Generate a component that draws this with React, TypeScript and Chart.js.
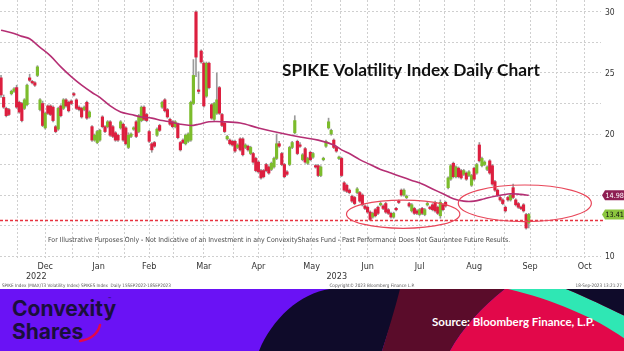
import React, { useEffect, useRef } from 'react';
import { Chart, registerables } from 'chart.js';

Chart.register(...registerables);

// ---------- DATA ----------
// Daily candles [open, high, low, close], one entry per trading day
const nov2022 = [
  [24.6, 24.8, 23.0, 23.2], [23.0, 23.2, 22.1, 22.2], [22.1, 22.2, 21.4, 21.5], [22.0, 22.1, 21.5, 21.6],
  [23.3, 23.6, 23.2, 23.5], [23.5, 23.8, 23.4, 23.7], [23.8, 24.0, 22.1, 22.2],
];
const dec2022 = [
  [22.6, 22.7, 21.7, 21.8], [22.5, 22.6, 21.0, 21.1], [22.1, 22.9, 22.0, 22.8], [22.4, 24.1, 22.3, 24.0],
  [24.6, 24.9, 24.3, 24.4], [24.3, 24.4, 24.1, 24.2], [24.2, 24.3, 23.9, 24.0], [24.8, 25.6, 24.7, 25.5],
  [22.0, 22.9, 21.9, 22.8], [22.5, 22.7, 20.6, 20.7], [20.5, 21.8, 20.4, 21.7], [22.3, 22.4, 21.6, 21.7],
  [22.3, 22.4, 21.5, 21.6], [22.2, 22.3, 21.0, 21.1], [20.6, 20.7, 20.1, 20.2], [20.4, 22.2, 20.3, 22.1],
  [22.3, 22.4, 21.4, 21.5], [22.1, 22.9, 22.0, 22.8], [22.8, 22.9, 22.2, 22.3], [22.6, 22.7, 21.8, 21.9],
  [22.7, 22.8, 22.4, 22.5],
];
const jan2023 = [
  [23.3, 23.4, 23.1, 23.2], [22.8, 22.9, 22.0, 22.1], [22.2, 22.3, 21.9, 22.0], [22.1, 22.2, 21.3, 21.4],
  [22.0, 22.3, 21.9, 22.2], [22.6, 22.7, 21.2, 21.3], [21.4, 21.9, 21.3, 21.8], [20.6, 20.7, 19.4, 19.5],
  [19.5, 20.0, 19.4, 19.9], [19.3, 20.3, 19.2, 20.2], [19.5, 20.4, 19.4, 20.3], [21.4, 21.5, 20.5, 20.6],
  [20.6, 20.7, 20.1, 20.2], [20.6, 21.1, 20.5, 21.0], [21.0, 21.1, 19.8, 19.9], [20.6, 20.7, 19.7, 19.8],
  [20.1, 20.2, 19.4, 19.5], [19.9, 20.0, 19.4, 19.5], [20.5, 21.1, 20.4, 21.0], [20.8, 20.9, 19.4, 19.5],
];
const feb2023 = [
  [20.5, 20.6, 19.1, 19.2], [18.9, 20.1, 18.8, 19.9], [19.8, 20.1, 19.7, 20.0], [20.4, 20.6, 20.3, 20.5],
  [21.0, 21.1, 19.7, 19.8], [20.2, 21.6, 20.1, 21.5], [21.1, 22.3, 21.0, 22.2], [22.2, 22.3, 21.1, 21.2],
  [21.6, 21.7, 21.0, 21.1], [20.2, 20.3, 19.3, 19.4], [19.2, 19.3, 18.5, 18.7], [19.3, 19.4, 18.9, 19.0],
  [19.9, 20.5, 19.8, 20.4], [20.7, 20.8, 20.2, 20.3], [22.2, 22.7, 22.1, 22.6], [22.8, 22.9, 21.8, 21.9],
  [22.0, 22.1, 21.3, 21.4], [21.2, 21.3, 20.7, 20.8], [21.0, 21.1, 20.5, 20.6],
];
const mar2023 = [
  [20.6, 21.1, 20.5, 21.0], [20.8, 20.9, 19.6, 19.7], [19.3, 19.4, 18.6, 18.7], [19.5, 19.6, 19.2, 19.3],
  [19.2, 20.0, 19.1, 19.9], [19.4, 20.1, 19.3, 20.0], [19.5, 22.7, 19.4, 22.6], [22.5, 26.1, 22.4, 24.8],
  [30.0, 30.1, 24.7, 26.3], [23.6, 25.1, 23.3, 23.5], [26.8, 26.9, 25.8, 25.9], [25.8, 25.9, 22.2, 22.3],
  [23.1, 25.9, 23.0, 25.8], [25.8, 25.9, 23.7, 23.8], [22.4, 22.5, 21.2, 21.3], [21.2, 22.6, 21.1, 22.5],
  [21.7, 25.0, 21.6, 22.8], [23.8, 23.9, 21.6, 21.7], [21.6, 21.7, 20.6, 20.7], [20.9, 21.0, 20.1, 20.2],
  [19.6, 19.9, 19.5, 19.8], [19.5, 19.6, 19.1, 19.2], [19.4, 19.5, 19.0, 19.1],
];
const apr2023 = [
  [19.4, 19.5, 18.5, 18.6], [18.9, 19.2, 18.8, 19.1], [19.6, 19.7, 18.6, 18.7], [19.6, 19.7, 18.2, 18.3],
  [18.9, 19.2, 18.8, 19.1], [19.0, 19.1, 18.6, 18.7], [18.4, 19.0, 18.3, 18.9], [18.4, 18.5, 17.6, 17.7],
  [18.0, 18.1, 16.9, 17.0], [17.7, 17.8, 16.8, 16.9], [17.0, 17.1, 16.3, 16.4], [17.0, 17.1, 16.4, 16.5],
  [17.5, 17.6, 16.9, 17.0], [17.3, 17.4, 16.7, 16.8], [17.1, 17.7, 17.0, 17.6], [17.3, 18.1, 17.2, 18.0],
  [18.0, 20.0, 17.9, 19.2], [19.2, 19.4, 18.9, 19.0], [18.4, 18.5, 17.4, 17.5],
];
const may2023 = [
  [17.5, 17.6, 16.4, 16.5], [16.9, 17.0, 16.6, 16.7], [17.5, 19.0, 17.4, 18.9], [18.9, 19.4, 18.8, 19.3],
  [20.1, 21.5, 20.0, 21.1], [19.4, 19.5, 18.3, 18.4], [19.1, 19.3, 18.9, 19.0], [17.9, 18.4, 17.8, 18.3],
  [18.8, 18.9, 17.6, 17.7], [17.6, 18.1, 17.5, 18.0], [18.5, 18.6, 17.8, 17.9], [18.1, 18.5, 18.0, 18.4],
  [17.4, 17.5, 17.2, 17.3], [17.4, 17.5, 16.5, 16.6], [16.6, 17.4, 16.5, 17.3], [17.9, 18.1, 17.8, 18.0],
  [19.0, 19.5, 18.9, 19.4], [20.5, 21.3, 20.4, 21.0], [20.0, 20.4, 19.9, 20.3], [19.5, 19.6, 18.8, 18.9],
  [18.9, 19.0, 18.5, 18.6], [18.0, 18.2, 17.9, 18.1],
];
const jun2023 = [
  [18.0, 18.1, 16.5, 16.6], [16.0, 16.1, 15.3, 15.4], [15.8, 15.9, 15.2, 15.3], [15.4, 15.5, 15.1, 15.2],
  [14.9, 15.0, 14.4, 14.5], [14.8, 14.9, 14.2, 14.3], [15.2, 15.6, 15.1, 15.5], [15.2, 15.3, 14.4, 14.5],
  [15.0, 15.1, 14.1, 14.2], [14.1, 14.2, 13.8, 13.9], [14.0, 14.1, 13.5, 13.6], [13.6, 13.7, 12.9, 13.0],
  [13.2, 13.6, 13.1, 13.5], [13.8, 13.9, 13.2, 13.3], [14.0, 14.1, 13.4, 13.5], [14.2, 14.4, 14.1, 14.3],
  [14.1, 14.2, 13.8, 13.9], [14.3, 14.4, 13.5, 13.6], [13.8, 13.9, 13.4, 13.5], [13.5, 13.6, 13.1, 13.2],
  [13.2, 13.6, 13.1, 13.5],
];
const jul2023 = [
  [13.9, 14.0, 13.7, 13.8], [14.5, 14.6, 14.3, 14.4], [15.4, 15.5, 14.9, 15.0], [15.0, 15.5, 14.9, 15.4],
  [14.8, 15.0, 14.7, 14.9], [14.3, 14.4, 14.0, 14.1], [13.7, 14.3, 13.6, 14.2], [13.9, 14.0, 13.4, 13.5],
  [13.7, 13.8, 13.4, 13.5], [13.4, 13.9, 13.3, 13.8], [13.9, 14.0, 13.4, 13.5], [13.4, 13.9, 13.3, 13.8],
  [14.2, 14.4, 14.1, 14.3], [14.0, 14.1, 13.8, 13.9], [14.2, 14.3, 13.7, 13.8], [14.4, 14.5, 13.6, 13.7],
  [14.0, 14.1, 13.4, 13.5], [13.3, 14.6, 13.1, 14.4], [14.2, 14.3, 13.7, 13.8],
];
const aug2023 = [
  [14.4, 14.5, 14.0, 14.1], [15.6, 16.5, 15.5, 16.4], [16.3, 17.5, 16.2, 17.4], [17.6, 17.7, 16.4, 16.5],
  [16.5, 17.4, 16.4, 17.3], [17.2, 17.3, 16.4, 16.5], [17.0, 17.1, 16.3, 16.4], [16.7, 17.1, 16.6, 17.0],
  [16.8, 16.9, 16.2, 16.3], [16.6, 17.0, 16.5, 16.9], [15.8, 16.7, 15.7, 16.6], [17.2, 17.3, 16.2, 16.3],
  [16.8, 17.6, 16.7, 17.5], [19.1, 19.3, 17.7, 17.8], [17.4, 18.1, 17.3, 18.0], [17.5, 17.8, 17.4, 17.7],
  [17.1, 17.4, 17.0, 17.3], [17.8, 17.9, 16.7, 16.8], [17.4, 17.5, 15.8, 15.9], [16.1, 16.2, 15.3, 15.4],
  [15.4, 15.5, 14.9, 15.0], [14.8, 14.9, 14.5, 14.6], [14.6, 14.7, 14.2, 14.3],
];
const sep2023 = [
  [14.0, 14.1, 13.6, 13.7], [14.8, 14.9, 14.5, 14.6], [14.6, 15.1, 14.5, 15.0], [15.6, 15.9, 14.7, 14.8],
  [14.6, 14.7, 14.1, 14.2], [14.3, 14.4, 13.9, 14.0], [14.0, 14.1, 13.8, 13.9], [14.2, 14.3, 13.6, 13.7],
  [13.4, 13.5, 12.2, 12.3], [12.7, 13.5, 12.3, 13.41],
];

// Moving average [trading-day index, value]
const movingAvg = [
  [0, 28.5], [4, 28.3], [8, 28.0], [11, 27.8], [15, 27.1], [19, 26.4], [23, 25.5], [27, 24.7],
  [31, 24.0], [35, 23.4], [38, 23.0], [42, 22.3], [46, 21.8], [50, 21.6], [54, 21.4], [58, 21.3],
  [62, 21.1], [65, 21.0], [69, 20.8], [73, 20.7], [76, 20.8], [80, 21.0], [86, 21.0], [92, 20.9],
  [99, 20.5], [107, 20.1], [115, 19.75], [122, 19.5], [128, 19.1], [131, 18.7], [134, 18.4], [138, 17.9],
  [142, 17.5], [146, 17.1], [150, 16.8], [154, 16.5], [158, 16.2], [162, 15.9], [166, 15.5], [170, 15.1],
  [174, 14.7], [178, 14.5], [182, 14.5], [186, 14.7], [190, 14.9], [196, 15.1], [200, 15.05], [203, 14.98],
];

const lastMA = 14.98;
const lastClose = 13.41;
const refLevel = 12.95;

const yGridValues = [10, 12.5, 15, 17.5, 20, 22.5, 25, 27.5, 30];
const yLabelValues = [10, 20, 25, 30];
const monthNames = ['Dec', 'Jan', 'Feb', 'Mar', 'Apr', 'May', 'Jun', 'Jul', 'Aug', 'Sep', 'Oct'];
// first trading-day index of Dec 2022 ... Nov 2023
const monthFirstIndex = [7, 28, 48, 67, 90, 109, 131, 152, 171, 194, 214, 236];
const yearLabels = ['2022', '2023'];
const yearStartIndex = [-0.4, 27.5];
const X_MIN = -0.4;
const X_MAX = 230.8;

// annotations [center index, center value, x-radius (days), y-radius (value)]
const ellipses = [
  [154.7, 13.43, 21.8, 1.16],
  [201.5, 14.32, 25.6, 1.5],
];

const TITLE = 'SPIKE Volatility Index Daily Chart';
const DISCLAIMER =
  'For Illustrative Purposes Only - Not Indicative of an Investment in any ConvexityShares Fund - Past Performance Does Not Gaurantee Future Results.';
const FOOT_LEFT = 'SPIKE Index (MIAX/T3 Volatility Index) SPIKES Index  Daily 15SEP2022-18SEP2023';
const FOOT_MID = 'Copyright© 2023 Bloomberg Finance L.P.';
const FOOT_RIGHT = '18-Sep-2023 13:21:27';

// ---------- STYLE ----------
const RED = '#dc1f3f';
const GREEN = '#7cbc2c';
const WICK = '#9a9a9a';
const MA_COLOR = '#b52f74';
const GRID = '#cfcfcf';
const NARROW = "'Liberation Sans Narrow', 'DejaVu Sans Condensed', 'Roboto Condensed', Arial, sans-serif";

function fitFont(ctx: CanvasRenderingContext2D, text: string, width: number, weight: string, family: string) {
  ctx.font = `${weight} 100px ${family}`;
  const w = ctx.measureText(text).width;
  const size = (100 * width) / w;
  ctx.font = `${weight} ${size}px ${family}`;
  return size;
}

export default function App() {
  const ref = useRef<HTMLCanvasElement>(null);

  useEffect(() => {
    const canvas = ref.current;
    if (!canvas) return;
    const candles = [...nov2022, ...dec2022, ...jan2023, ...feb2023, ...mar2023, ...apr2023, ...may2023, ...jun2023, ...jul2023, ...aug2023, ...sep2023];

    const bodies = candles.map(([o, , , c], i) => {
      let lo = Math.min(o, c);
      let hi = Math.max(o, c);
      if (hi - lo < 0.12) {
        const m = (hi + lo) / 2;
        lo = m - 0.06;
        hi = m + 0.06;
      }
      return { x: i, y: [lo, hi] };
    });
    const bodyColors = candles.map(([o, , , c]) => (c >= o ? GREEN : RED));
    const wicks = candles.map(([, h, l], i) => ({ x: i, y: [l, h] }));

    const xTicks: number[] = [];
    const xLabelMap = new Map<string, string>();
    for (let m = 0; m < monthNames.length; m++) {
      const a = monthFirstIndex[m] - 0.5;
      const b = monthFirstIndex[m + 1] - 0.5;
      const mid = (a + b) / 2;
      xTicks.push(a, mid);
      xLabelMap.set(mid.toFixed(2), monthNames[m]);
    }

    const overlay = {
      id: 'overlay',
      afterDatasetsDraw(chart: any) {
        const { ctx, chartArea, scales } = chart;
        const xs = scales.x;
        const ys = scales.y;
        ctx.save();
        // reference dashed line
        const yr = Math.round(ys.getPixelForValue(refLevel)) + 0.5;
        ctx.strokeStyle = '#e8333f';
        ctx.lineWidth = 1.5;
        ctx.setLineDash([3, 2]);
        ctx.beginPath();
        ctx.moveTo(chartArea.left, yr);
        ctx.lineTo(chartArea.right + 2, yr);
        ctx.stroke();
        ctx.setLineDash([]);
        // ellipses
        ctx.strokeStyle = '#e8475a';
        ctx.lineWidth = 1.2;
        ellipses.forEach(([cx, cy, rx, ry]) => {
          const px = xs.getPixelForValue(cx);
          const py = ys.getPixelForValue(cy);
          const prx = Math.abs(xs.getPixelForValue(cx + rx) - px);
          const pry = Math.abs(ys.getPixelForValue(cy + ry) - py);
          ctx.beginPath();
          ctx.ellipse(px, py, prx, pry, 0, 0, Math.PI * 2);
          ctx.stroke();
        });
        ctx.restore();
      },
      afterDraw(chart: any) {
        const { ctx, chartArea, scales } = chart;
        const xs = scales.x;
        const ys = scales.y;
        ctx.save();
        // y-axis labels (right)
        ctx.fillStyle = '#333';
        ctx.font = `8.5px ${NARROW}`;
        ctx.textAlign = 'left';
        ctx.textBaseline = 'middle';
        yLabelValues.forEach((v) => {
          ctx.fillText(String(v), chartArea.right + 4, ys.getPixelForValue(v) + 0.5);
        });
        // title
        ctx.fillStyle = '#111';
        ctx.textBaseline = 'alphabetic';
        fitFont(ctx, TITLE, 258, '700', "Lato, 'Open Sans', sans-serif");
        ctx.fillText(TITLE, 282, 76);
        // disclaimer
        ctx.fillStyle = '#4a4a4a';
        fitFont(ctx, DISCLAIMER, 463, '400', NARROW);
        ctx.textBaseline = 'middle';
        ctx.fillText(DISCLAIMER, 48, 240.5);
        // year labels
        ctx.fillStyle = '#333';
        ctx.font = `9px ${NARROW}`;
        ctx.textAlign = 'center';
        for (let k = 0; k < yearLabels.length; k++) {
          const a = yearStartIndex[k];
          const b = k + 1 < yearStartIndex.length ? yearStartIndex[k + 1] : X_MAX;
          const px = (xs.getPixelForValue(a) + xs.getPixelForValue(b)) / 2;
          ctx.fillText(yearLabels[k], px, 277);
        }
        // footer text
        ctx.fillStyle = '#555';
        ctx.font = `4.6px ${NARROW}`;
        ctx.textAlign = 'left';
        ctx.fillText(FOOT_LEFT, 2, 285.5);
        ctx.textAlign = 'center';
        ctx.fillText(FOOT_MID, 372, 285.5);
        ctx.textAlign = 'right';
        ctx.fillText(FOOT_RIGHT, 622, 285.5);
        // value tags
        const tag = (v: number, bg: string, fg: string) => {
          const py = ys.getPixelForValue(v);
          const x0 = chartArea.right + 1;
          const h = 10;
          ctx.fillStyle = bg;
          ctx.beginPath();
          ctx.moveTo(x0, py);
          ctx.lineTo(x0 + 3, py - h / 2);
          ctx.lineTo(624, py - h / 2);
          ctx.lineTo(624, py + h / 2);
          ctx.lineTo(x0 + 3, py + h / 2);
          ctx.closePath();
          ctx.fill();
          ctx.fillStyle = fg;
          ctx.textAlign = 'left';
          ctx.textBaseline = 'middle';
          const label = v.toFixed(2);
          fitFont(ctx, label, 18.5, '400', NARROW);
          ctx.fillText(label, x0 + 3.5, py + 0.5);
        };
        tag(lastMA, '#8e1f52', '#ffffff');
        tag(lastClose, '#8cc63e', '#111111');
        ctx.restore();
      },
    };

    const chart = new Chart(canvas, {
      type: 'bar',
      data: {
        datasets: [
          {
            type: 'line',
            data: movingAvg.map(([x, y]) => ({ x, y })),
            borderColor: MA_COLOR,
            borderWidth: 1.6,
            pointRadius: 0,
            tension: 0.35,
            order: 0,
          } as any,
          {
            type: 'bar',
            data: bodies,
            backgroundColor: bodyColors,
            borderWidth: 0,
            barThickness: 2.5,
            grouped: false,
            order: 1,
          } as any,
          {
            type: 'bar',
            data: wicks,
            backgroundColor: WICK,
            borderWidth: 0,
            barThickness: 1,
            grouped: false,
            order: 2,
          } as any,
        ],
      },
      options: {
        animation: false,
        responsive: false,
        maintainAspectRatio: false,
        layout: { padding: 0 },
        plugins: { legend: { display: false }, tooltip: { enabled: false } },
        scales: {
          x: {
            type: 'linear',
            min: X_MIN,
            max: X_MAX,
            offset: false,
            grid: { offset: false, color: GRID, lineWidth: 1, drawTicks: false },
            border: { display: false, dash: [2, 2] },
            afterBuildTicks: (s: any) => {
              s.ticks = xTicks.map((v) => ({ value: v }));
            },
            afterFit: (s: any) => {
              s.height = 31;
            },
            ticks: {
              autoSkip: false,
              maxRotation: 0,
              minRotation: 0,
              padding: 3,
              color: '#333',
              font: { family: NARROW, size: 9 },
              callback: (v: any) => xLabelMap.get(Number(v).toFixed(2)) ?? '',
            },
          },
          y: {
            type: 'linear',
            position: 'right',
            min: 9.84,
            max: 30.98,
            grid: { color: GRID, lineWidth: 1, drawTicks: false },
            border: { display: false, dash: [2, 2] },
            afterBuildTicks: (s: any) => {
              s.ticks = yGridValues.map((v) => ({ value: v }));
            },
            afterFit: (s: any) => {
              s.width = 23;
            },
            ticks: { display: false },
          },
        },
      } as any,
      plugins: [overlay],
    });
    return () => chart.destroy();
  }, []);

  return (
    <div style={{ position: 'fixed', left: 0, top: 0, width: 624, height: 351, overflow: 'hidden', background: '#fff' }}>
      <canvas ref={ref} width={624} height={289} style={{ display: 'block', width: 624, height: 289 }} />
      <svg width={624} height={62} viewBox="0 0 624 62" style={{ position: 'absolute', left: 0, top: 289, display: 'block' }}>
        <rect x={0} y={0} width={624} height={62} fill="#6a12f5" />
        <path d="M259 62 C272 30 300 4 330 0 L402 0 C396 22 388 42 382 62 Z" fill="#0f0b2a" />
        <path d="M400 0 L505 0 C482 18 462 40 450 62 L382 62 C388 42 395 20 400 0 Z" fill="#5a0c2a" />
        <path d="M505 0 L625 0 L625 62 L450 62 C462 40 482 18 505 0 Z" fill="#e2084a" />
        <path d="M502 0 L566 0 C588 9 608 19 625 27 L625 50 C598 30 552 10 508 0 Z" fill="#2fe7b4" />
        <path d="M566 0 L625 0 L625 27 C608 19 588 9 566 0 Z" fill="#0f0b2a" />
        <text x={12} y={27} fontFamily="Inter, 'Open Sans', sans-serif" fontWeight={700} fontSize={21} fill="#1a0f3c">Convexity</text>
        <text x={12} y={50} fontFamily="Inter, 'Open Sans', sans-serif" fontWeight={700} fontSize={21} fill="#1a0f3c">Shares</text>
        <text x={108} y={12} fontFamily="Inter, sans-serif" fontSize={5} fill="#1a0f3c">™</text>
        <path d="M80 52 C92 50 98 44 100 36" stroke="#e2084a" strokeWidth={2.5} fill="none" strokeLinecap="round" />
        <text x={432} y={37} fontFamily="Lato, 'Open Sans', sans-serif" fontWeight={700} fontSize={11.5} fill="#ffffff">Source: Bloomberg Finance, L.P.</text>
      </svg>
    </div>
  );
}
